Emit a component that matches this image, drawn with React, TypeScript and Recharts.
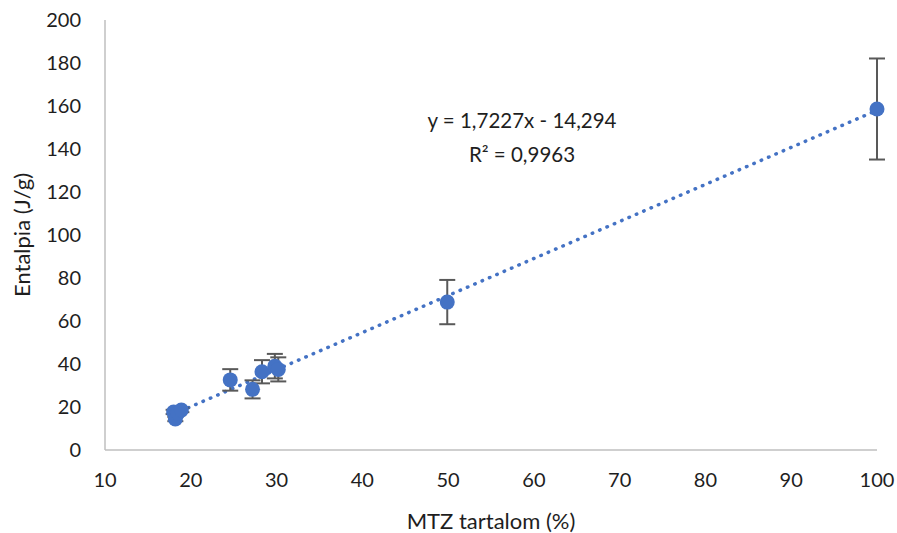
import {
  ComposedChart,
  ErrorBar,
  Line,
  Scatter,
  XAxis,
  YAxis,
  Customized,
} from "recharts";

const mtz = [18.0, 18.2, 18.5, 18.9, 24.6, 27.2, 28.3, 29.8, 30.2, 49.9, 100];
const entalpia = [17.7, 14.4, 17.2, 18.6, 32.6, 28.2, 36.4, 39.0, 37.5, 68.8, 158.6];
const entalpiaErr = [1, 1, 1, 1, 5, 4.2, 5.4, 5.7, 5.6, 10.3, 23.5];

const xTicks = [10, 20, 30, 40, 50, 60, 70, 80, 90, 100];
const yTicks = [0, 20, 40, 60, 80, 100, 120, 140, 160, 180, 200];

// trendline from the fitted equation shown on the chart
const slope = 1.7227;
const intercept = -14.294;
const trendX = [18, 100];

const BLUE = "#4472C4";
const AXIS = "#bfbfbf";
const TEXT = "#1e1e1e";
const FONT = "Lato, 'Open Sans', sans-serif";

const points = mtz.map((x, i) => ({ x, y: entalpia[i], err: entalpiaErr[i] }));
const trend = trendX.map((x) => ({ x, t: slope * x + intercept }));

const tickStyle = { fontSize: 20, fill: TEXT, fontFamily: FONT };
const titleStyle = { fontSize: 22, fill: TEXT, fontFamily: FONT, textAnchor: "middle" as const };

function Equation() {
  return (
    <g fontFamily={FONT} fontSize={20.5} fill={TEXT} textAnchor="middle">
      <text x={522} y={128}>y = 1,7227x - 14,294</text>
      <text x={522} y={162}>R² = 0,9963</text>
    </g>
  );
}

export default function App() {
  return (
    <div style={{ position: "absolute", left: 0, top: 0, width: 897, height: 533, background: "#fff" }}>
      <ComposedChart width={897} height={533} margin={{ top: 20, right: 20, left: 0, bottom: 0 }}>
        <XAxis
          type="number"
          dataKey="x"
          domain={[10, 100]}
          ticks={xTicks}
          tick={tickStyle}
          tickLine={false}
          tickSize={0}
          tickMargin={23}
          axisLine={{ stroke: AXIS, strokeWidth: 1.5 }}
          height={83}
          label={{ value: "MTZ tartalom (%)", position: "insideBottom", offset: 4, style: titleStyle }}
        />
        <YAxis
          type="number"
          domain={[0, 200]}
          ticks={yTicks}
          tick={tickStyle}
          tickLine={false}
          tickSize={0}
          tickMargin={24}
          axisLine={{ stroke: AXIS, strokeWidth: 1.5 }}
          width={105}
          label={{ value: "Entalpia (J/g)", angle: -90, position: "insideLeft", offset: 22, style: titleStyle }}
        />
        <Line
          data={trend}
          dataKey="t"
          type="linear"
          stroke={BLUE}
          strokeWidth={3.5}
          strokeLinecap="round"
          strokeDasharray="0.5 7.5"
          dot={false}
          activeDot={false}
          isAnimationActive={false}
        />
        <Scatter
          data={points}
          dataKey="y"
          fill={BLUE}
          shape={(p: any) => <circle cx={p.cx} cy={p.cy} r={7.5} fill={BLUE} />}
          isAnimationActive={false}
        >
          <ErrorBar dataKey="err" direction="y" width={8} stroke="#595959" strokeWidth={2} />
        </Scatter>
        <Customized component={Equation} />
      </ComposedChart>
    </div>
  );
}
